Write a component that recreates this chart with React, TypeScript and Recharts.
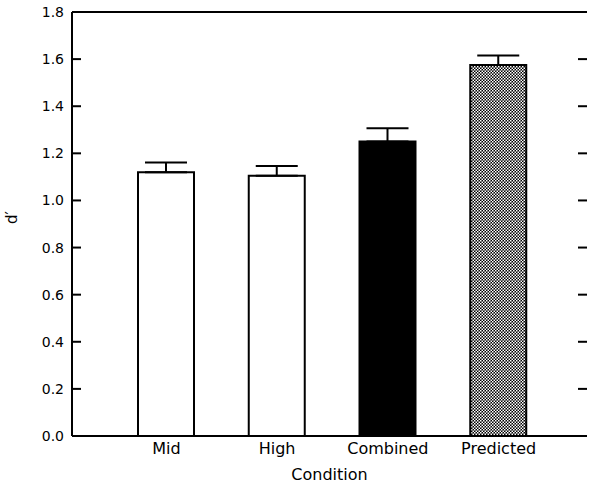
import { BarChart, Bar, Cell, XAxis, YAxis, ErrorBar, ReferenceLine } from "recharts";

const conditions = ["Mid", "High", "Combined", "Predicted"];
const dPrime = [1.12, 1.105, 1.25, 1.575];
const errUp = [0.041, 0.041, 0.057, 0.04];
const fills = ["#ffffff", "#ffffff", "#000000", "url(#dots)"];
const yTicks = [0, 0.2, 0.4, 0.6, 0.8, 1.0, 1.2, 1.4, 1.6, 1.8];

const data = conditions.map((name, i) => ({
  name,
  value: dPrime[i],
  err: [0, errUp[i]],
}));

const FONT = "'DejaVu Sans', sans-serif";
const TICK_LEN = 9;

// inward tick marks on both the left and right frame edges
const InnerTicks = (p: any) => {
  const left = Math.min(Number(p.x1), Number(p.x2));
  const right = Math.max(Number(p.x1), Number(p.x2));
  const y = Number(p.y1);
  return (
    <g>
      <line x1={left} x2={left + TICK_LEN} y1={y} y2={y} stroke="#000" strokeWidth={2} />
      <line x1={right - TICK_LEN} x2={right} y1={y} y2={y} stroke="#000" strokeWidth={2} />
    </g>
  );
};

export default function App() {
  return (
    <div style={{ position: "absolute", left: 0, top: 0, background: "#fff" }}>
      <BarChart
        width={600}
        height={483}
        data={data}
        margin={{ top: 12, right: 13, bottom: 0, left: 0 }}
      >
        <defs>
          <pattern id="dots" width={3} height={3} patternUnits="userSpaceOnUse">
            <rect width={3} height={3} fill="#000" />
            <rect x={0} y={0} width={1.5} height={1.5} fill="#fff" />
            <rect x={1.5} y={1.5} width={1.5} height={1.5} fill="#fff" />
          </pattern>
        </defs>
        <XAxis
          dataKey="name"
          height={47}
          padding={{ left: 39, right: 33 }}
          tickLine={false}
          tickSize={0}
          tickMargin={7}
          axisLine={{ stroke: "#000", strokeWidth: 2 }}
          tick={{ fill: "#000", fontSize: 16, fontFamily: FONT }}
          label={{
            value: "Condition",
            position: "insideBottom",
            offset: 3,
            fill: "#000",
            fontSize: 16,
            fontFamily: FONT,
          }}
        />
        <YAxis
          width={72}
          domain={[0, 1.8]}
          ticks={yTicks}
          interval={0}
          tickLine={false}
          tickSize={0}
          tickMargin={8}
          axisLine={{ stroke: "#000", strokeWidth: 2 }}
          tick={{ fill: "#000", fontSize: 14, fontFamily: FONT }}
          tickFormatter={(v: number) => v.toFixed(1)}
          label={{
            value: "d′",
            angle: -90,
            position: "insideLeft",
            offset: 12,
            fill: "#000",
            fontSize: 15,
            fontFamily: FONT,
          }}
        />
        <YAxis
          yAxisId="r"
          orientation="right"
          width={0}
          domain={[0, 1.8]}
          axisLine={{ stroke: "#000", strokeWidth: 2 }}
          tickLine={false}
          tick={false}
        />
        <ReferenceLine y={1.8} stroke="#000" strokeWidth={2} />
        {yTicks.map((v) => (
          <ReferenceLine key={`t-${v}`} y={v} stroke="#000" strokeWidth={2} shape={InnerTicks} />
        ))}
        <Bar dataKey="value" barSize={56} stroke="#000" strokeWidth={2} isAnimationActive={false}>
          {data.map((d, i) => (
            <Cell key={d.name} fill={fills[i]} />
          ))}
          <ErrorBar dataKey="err" width={21} stroke="#000" strokeWidth={2} direction="y" />
        </Bar>
      </BarChart>
    </div>
  );
}
